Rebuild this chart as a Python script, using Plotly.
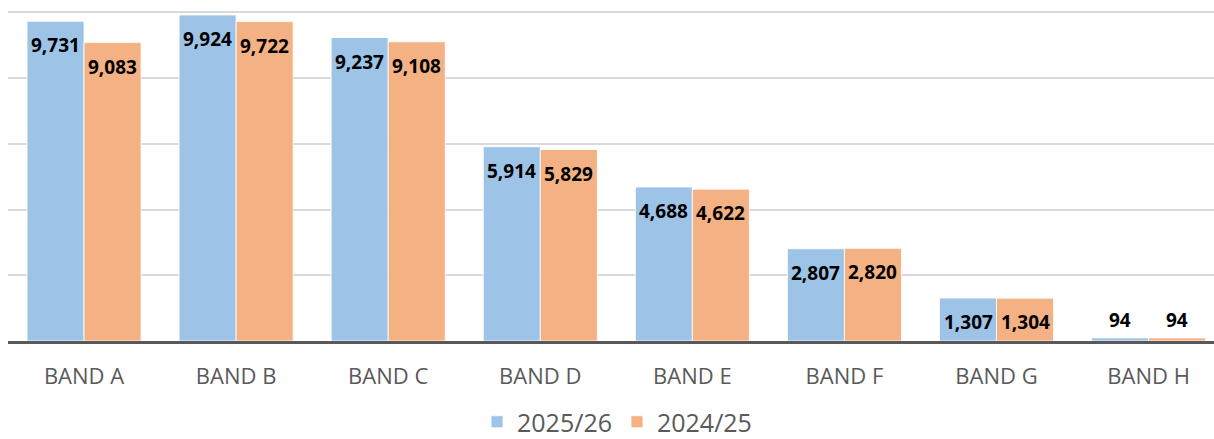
import plotly.graph_objects as go

categories = ["BAND A", "BAND B", "BAND C", "BAND D", "BAND E", "BAND F", "BAND G", "BAND H"]
series_names = ["2025/26", "2024/25"]
values_2025 = [9731, 9924, 9237, 5914, 4688, 2807, 1307, 94]
values_2024 = [9083, 9722, 9108, 5829, 4622, 2820, 1304, 94]
colors = ["#9DC3E6", "#F4B183"]

W, H = 1214, 439
ML, MR, MT, MB = 8, 0, 0, 98
BARGAP = 0.25
XRANGE = [-0.5, 7.43]
YRANGE = [0, 10380]

fig = go.Figure()
for name, vals, col in zip(series_names, [values_2025, values_2024], colors):
    fig.add_trace(go.Bar(
        x=categories, y=vals, name=name,
        marker=dict(color=col, line=dict(color="rgba(255,255,255,0.8)", width=1)),
        hoverinfo="skip",
    ))

plot_w = W - ML - MR
plot_h = H - MT - MB
px_per_cat = plot_w / (XRANGE[1] - XRANGE[0])
bar_w = px_per_cat * (1 - BARGAP) / 2
px_per_unit = plot_h / (YRANGE[1] - YRANGE[0])
for si, vals in enumerate([values_2025, values_2024]):
    shift = (-0.5 if si == 0 else 0.5) * bar_w
    for cat, v in zip(categories, vals):
        bar_px = v * px_per_unit
        ys = -24 if bar_px > 40 else 18
        fig.add_annotation(
            x=cat, y=v, xref="x", yref="y", text=f"{v:,}", showarrow=False,
            xshift=shift, yshift=ys, xanchor="center", yanchor="middle",
            font=dict(family="Open Sans", size=19, color="#000000", weight="bold"),
        )

fig.update_layout(
    width=W, height=H,
    margin=dict(l=ML, r=MR, t=MT, b=MB, pad=0, autoexpand=False),
    paper_bgcolor="white", plot_bgcolor="white",
    barmode="group", bargap=BARGAP, bargroupgap=0,
    font=dict(family="Open Sans", color="#595959"),
    showlegend=True,
    legend=dict(
        orientation="h", x=0.505, xanchor="center",
        yref="container", y=(H - 422) / H, yanchor="middle",
        font=dict(family="Open Sans", size=25, color="#595959"),
        itemwidth=30, tracegroupgap=0, maxheight=120,
    ),
    xaxis=dict(
        range=XRANGE, showgrid=False, showline=True, linecolor="#595959", linewidth=2.5,
        ticks="outside", ticklen=14, tickcolor="rgba(0,0,0,0)",
        tickfont=dict(family="Open Sans", size=22, color="#595959"),
        fixedrange=True, automargin=False,
    ),
    yaxis=dict(
        range=YRANGE, dtick=2000, tick0=0, showgrid=True, gridcolor="#D9D9D9", gridwidth=1.5,
        zeroline=False, showticklabels=False, showline=False, fixedrange=True, automargin=False,
    ),
)

post = """
document.documentElement.style.overflow='hidden';
document.body.style.margin='0';
document.body.style.overflow='hidden';
"""
fig.write_html("out.html", config={"displayModeBar": False}, post_script=post)
